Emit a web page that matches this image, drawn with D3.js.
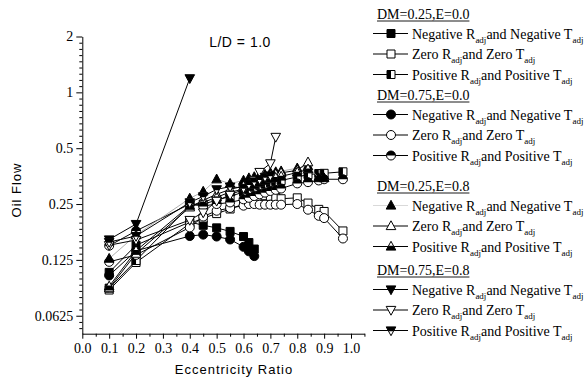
<!DOCTYPE html>
<html>
<head>
<meta charset="utf-8">
<script src="https://cdn.jsdelivr.net/npm/d3@7"></script>
<style>
  body { margin: 0; background: #fff; }
  svg { display: block; }
  .serif { font-family: "Liberation Serif", "Times New Roman", "DejaVu Serif", serif; }
  .sans { font-family: "Liberation Sans", Arial, sans-serif; }
</style>
</head>
<body>
<svg id="chart" width="588" height="379"></svg>
<script>
// ---- data: oil flow vs. eccentricity ratio, L/D = 1.0 ----
// eccentricity ratios evaluated for each case
const eccShort = [0.1, 0.2, 0.4, 0.45, 0.5, 0.55, 0.6, 0.62, 0.64];
const eccFull  = [0.1, 0.2, 0.4, 0.45, 0.5, 0.55, 0.6, 0.62, 0.64, 0.66, 0.68, 0.7, 0.72, 0.74, 0.8, 0.84, 0.88, 0.9, 0.97];
const eccTo90  = [0.1, 0.2, 0.4, 0.45, 0.5, 0.55, 0.6, 0.62, 0.64, 0.66, 0.68, 0.7, 0.72, 0.74, 0.8, 0.84, 0.88, 0.9];
const eccTo84  = [0.1, 0.2, 0.4, 0.45, 0.5, 0.55, 0.6, 0.62, 0.64, 0.66, 0.68, 0.7, 0.72, 0.74, 0.8, 0.84];
const eccTo40  = [0.1, 0.2, 0.4];
const eccTo72  = [0.1, 0.2, 0.4, 0.45, 0.5, 0.55, 0.6, 0.62, 0.64, 0.66, 0.7, 0.72];
const eccTo70  = [0.1, 0.2, 0.4, 0.45, 0.5, 0.55, 0.6, 0.62, 0.64, 0.66, 0.68, 0.7];

// DM=0.25, E=0.0
const dm25e0Neg  = [0.107, 0.150, 0.200, 0.192, 0.186, 0.178, 0.167, 0.155, 0.143];
const dm25e0Zero = [0.086, 0.121, 0.196, 0.210, 0.222, 0.235, 0.250, 0.258, 0.265, 0.275, 0.277, 0.275, 0.272, 0.267, 0.270, 0.253, 0.234, 0.228, 0.179];
const dm25e0Pos  = [0.088, 0.124, 0.245, 0.250, 0.262, 0.275, 0.290, 0.300, 0.308, 0.315, 0.320, 0.325, 0.330, 0.335, 0.350, 0.360, 0.365, 0.366, 0.373];
// DM=0.75, E=0.0
const dm75e0Neg  = [0.103, 0.140, 0.168, 0.171, 0.167, 0.161, 0.147, 0.139, 0.131];
const dm75e0Zero = [0.122, 0.133, 0.187, 0.214, 0.230, 0.238, 0.245, 0.250, 0.250, 0.248, 0.248, 0.248, 0.248, 0.248, 0.250, 0.233, 0.216, 0.210, 0.163];
const dm75e0Pos  = [0.149, 0.179, 0.250, 0.244, 0.250, 0.255, 0.265, 0.270, 0.276, 0.282, 0.288, 0.294, 0.298, 0.303, 0.323, 0.328, 0.335, 0.340, 0.340];
// DM=0.25, E=0.8
const dm25e8Neg  = [0.127, 0.170, 0.268, 0.292, 0.340, 0.322, 0.335, 0.345, 0.350, 0.355, 0.360, 0.368, 0.372, 0.376, 0.390, 0.400, 0.345, 0.345];
const dm25e8Zero = [0.088, 0.135, 0.240, 0.262, 0.282, 0.300, 0.312, 0.320, 0.330, 0.340, 0.348, 0.356, 0.362, 0.368, 0.380, 0.420];
const dm25e8Pos  = [0.090, 0.140, 0.245, 0.255, 0.272, 0.290, 0.300, 0.310, 0.318, 0.326, 0.334, 0.340, 0.346, 0.352, 0.370, 0.385];
// DM=0.75, E=0.8
const dm75e8Neg  = [0.161, 0.195, 1.19];
const dm75e8Zero = [0.150, 0.160, 0.205, 0.225, 0.260, 0.280, 0.300, 0.318, 0.335, 0.372, 0.414, 0.575];
const dm75e8Pos  = [0.156, 0.168, 0.255, 0.275, 0.300, 0.310, 0.305, 0.320, 0.330, 0.340, 0.350, 0.356];

// axis ticks
const xTickValues = [0, 0.1, 0.2, 0.3, 0.4, 0.5, 0.6, 0.7, 0.8, 0.9, 1.0];
const xTickLabels = ["0.0", "0.1", "0.2", "0.3", "0.4", "0.5", "0.6", "0.7", "0.8", "0.9", "1.0"];
const yTickValues = [0.0625, 0.125, 0.25, 0.5, 1, 2];
const yTickLabels = ["0.0625", "0.125", "0.25", "0.5", "1", "2"];

// legend text
const groupTitles = ["DM=0.25,E=0.0", "DM=0.75,E=0.0", "DM=0.25,E=0.8", "DM=0.75,E=0.8"];
const caseWords = ["Negative", "Zero", "Positive"];

// ---- series table ----
const series = [
  { ecc: eccShort, val: dm25e0Neg,  shape: "square",  fill: "full",  group: 0, kase: 0 },
  { ecc: eccFull,  val: dm25e0Zero, shape: "square",  fill: "none",  group: 0, kase: 1 },
  { ecc: eccFull,  val: dm25e0Pos,  shape: "square",  fill: "half",  group: 0, kase: 2 },
  { ecc: eccShort, val: dm75e0Neg,  shape: "circle",  fill: "full",  group: 1, kase: 0 },
  { ecc: eccFull,  val: dm75e0Zero, shape: "circle",  fill: "none",  group: 1, kase: 1 },
  { ecc: eccFull,  val: dm75e0Pos,  shape: "circle",  fill: "half",  group: 1, kase: 2 },
  { ecc: eccTo90,  val: dm25e8Neg,  shape: "triUp",   fill: "full",  group: 2, kase: 0, faint: true },
  { ecc: eccTo84,  val: dm25e8Zero, shape: "triUp",   fill: "none",  group: 2, kase: 1 },
  { ecc: eccTo84,  val: dm25e8Pos,  shape: "triUp",   fill: "half",  group: 2, kase: 2 },
  { ecc: eccTo40,  val: dm75e8Neg,  shape: "triDown", fill: "full",  group: 3, kase: 0 },
  { ecc: eccTo72,  val: dm75e8Zero, shape: "triDown", fill: "none",  group: 3, kase: 1 },
  { ecc: eccTo70,  val: dm75e8Pos,  shape: "triDown", fill: "half",  group: 3, kase: 2 }
];

// ---- layout ----
const svg = d3.select("#chart");
const plot = { left: 82.3, top: 36.5, bottom: 333.7, unit: 268.7 };

const x = d3.scaleLinear().domain([0, 1.05]).range([plot.left, plot.left + 1.05 * plot.unit]);
const y = d3.scaleLog().base(2).domain([0.05, 2]).range([plot.bottom, plot.top]);

// ---- axes ----
const yMinor = [];
{
  const lo = Math.log2(0.05), hi = Math.log2(2);
  for (let j = 1; hi - j / 9 >= lo - 1e-9; j++) {
    if (j % 9 !== 0) yMinor.push(Math.pow(2, hi - j / 9));
  }
}
const xMinor = d3.range(0, 11).map(i => (i * 0.1 + 0.05));

svg.append("g").attr("transform", `translate(${plot.left},0)`)
  .call(d3.axisLeft(y).tickValues(yTickValues).tickFormat((d, i) => yTickLabels[i])
    .tickSize(6).tickSizeOuter(0).tickPadding(3));
svg.append("g").attr("transform", `translate(${plot.left},0)`)
  .call(d3.axisLeft(y).tickValues(yMinor).tickFormat("").tickSize(3).tickSizeOuter(0))
  .select(".domain").remove();

svg.append("g").attr("transform", `translate(0,${plot.bottom})`)
  .call(d3.axisBottom(x).tickValues(xTickValues).tickFormat((d, i) => xTickLabels[i])
    .tickSize(5).tickSizeOuter(0).tickPadding(4));
svg.append("g").attr("transform", `translate(0,${plot.bottom})`)
  .call(d3.axisBottom(x).tickValues(xMinor).tickFormat("").tickSize(3).tickSizeOuter(0))
  .select(".domain").remove();

svg.selectAll("g").attr("font-family", null);
svg.selectAll(".tick text").attr("class", "serif").attr("font-size", 14).attr("fill", "#000");
svg.selectAll(".domain, .tick line").attr("stroke", "#000").attr("stroke-width", 1);

// axis titles and plot label
svg.append("text").attr("class", "sans").attr("x", 234).attr("y", 374).attr("text-anchor", "middle")
  .attr("font-size", 13).attr("letter-spacing", 1)
  .text("Eccentricity Ratio");
svg.append("text").attr("class", "sans").attr("transform", "translate(21,190) rotate(-90)")
  .attr("text-anchor", "middle").attr("font-size", 13).attr("letter-spacing", 1)
  .text("Oil Flow");
svg.append("text").attr("class", "sans").attr("x", 240).attr("y", 47).attr("text-anchor", "middle")
  .attr("font-size", 14).attr("letter-spacing", 0.5)
  .text("L/D = 1.0");

// ---- markers ----
function drawMarker(g, shape, fill, cx, cy) {
  const m = g.append("g").attr("transform", `translate(${cx},${cy})`);
  let outline, half;
  if (shape === "square") {
    const s = 4;
    outline = `M${-s},${-s}H${s}V${s}H${-s}Z`;
    half = `M${-s},${-s}H0V${s}H${-s}Z`;
  } else if (shape === "circle") {
    const r = 4.5;
    outline = `M${-r},0A${r},${r} 0 1 1 ${r},0A${r},${r} 0 1 1 ${-r},0Z`;
    half = `M${-r},0A${r},${r} 0 0 1 ${r},0Z`;
  } else if (shape === "triUp") {
    const w = 4.8, h1 = 5.2, h2 = 3.6, mid = (h2 - h1) / 2, hw = w * (mid + h1) / (h1 + h2);
    outline = `M0,${-h1}L${w},${h2}L${-w},${h2}Z`;
    half = `M${-hw},${mid}L${hw},${mid}L${w},${h2}L${-w},${h2}Z`;
  } else {
    const w = 4.8, h1 = 5.2, h2 = 3.6, mid = (h1 - h2) / 2, hw = w * (h1 - mid) / (h1 + h2);
    outline = `M0,${h1}L${w},${-h2}L${-w},${-h2}Z`;
    half = `M${-hw},${mid}L${hw},${mid}L${w},${-h2}L${-w},${-h2}Z`;
  }
  m.append("path").attr("d", outline).attr("fill", fill === "full" ? "#000" : "#fff");
  if (fill === "half") m.append("path").attr("d", half).attr("fill", "#000");
  m.append("path").attr("d", outline).attr("fill", "none").attr("stroke", "#000").attr("stroke-width", 1);
}

// ---- series ----
const line = d3.line().x(d => x(d[0])).y(d => y(d[1]));
series.forEach(s => {
  const pts = s.ecc.map((e, i) => [e, s.val[i]]);
  const g = svg.append("g");
  g.append("path").attr("d", line(pts)).attr("fill", "none")
    .attr("stroke", s.faint ? "#9a9a9a" : "#000").attr("stroke-width", s.faint ? 0.8 : 1);
  pts.forEach(p => drawMarker(g, s.shape, s.fill, x(p[0]), y(p[1])));
});

// ---- legend ----
const headerY = [14, 95, 186, 270];
const legend = svg.append("g");
series.forEach(s => {
  const hy = headerY[s.group];
  if (s.kase === 0) {
    const t = legend.append("text").attr("class", "serif").attr("x", 377).attr("y", hy + 5)
      .attr("font-size", 14).text(groupTitles[s.group]);
    const w = t.node().getComputedTextLength();
    legend.append("line").attr("x1", 377).attr("x2", 377 + w).attr("y1", hy + 7).attr("y2", hy + 7)
      .attr("stroke", "#000").attr("stroke-width", 0.9);
  }
  const ry = hy + 19.5 + s.kase * 20.5;
  legend.append("line").attr("x1", 373).attr("x2", 408).attr("y1", ry).attr("y2", ry)
    .attr("stroke", s.faint ? "#cfcfcf" : "#000").attr("stroke-width", s.faint ? 0.8 : 1.2);
  drawMarker(legend, s.shape, s.fill, 391, ry);
  const word = caseWords[s.kase];
  const t = legend.append("text").attr("class", "serif").attr("x", 412).attr("y", ry + 5)
    .attr("font-size", 14);
  t.append("tspan").text(word + " R");
  t.append("tspan").attr("font-size", 9).attr("dy", 4).text("adj");
  t.append("tspan").attr("dy", -4).text("and " + word + " T");
  t.append("tspan").attr("font-size", 9).attr("dy", 4).text("adj");
});
</script>
</body>
</html>
